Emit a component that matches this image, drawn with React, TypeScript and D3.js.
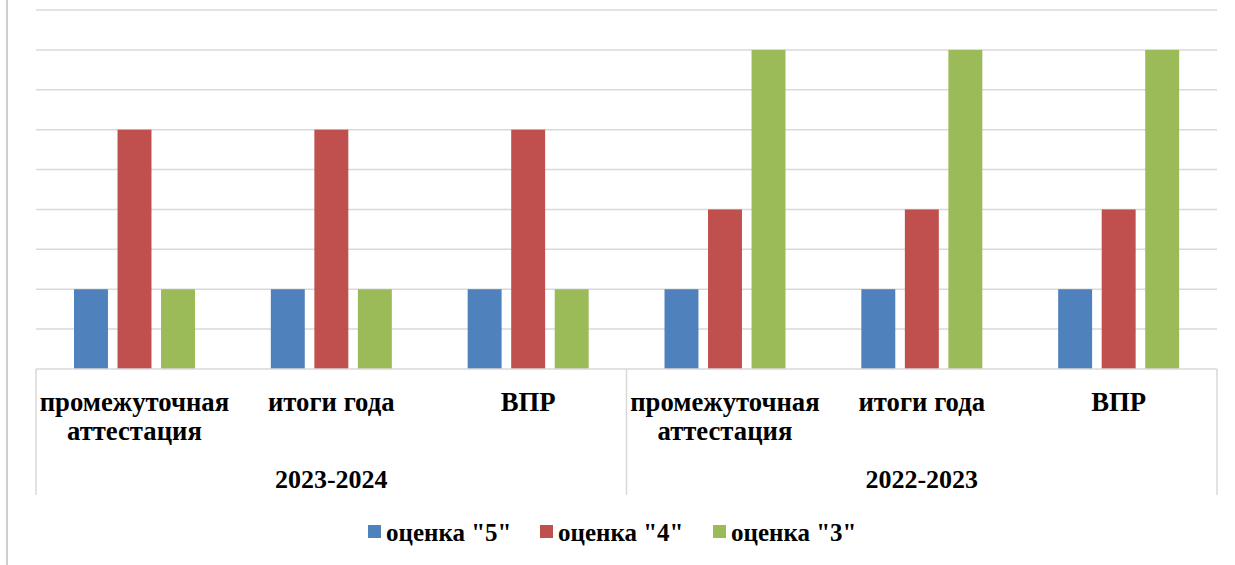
import React from "react";
import * as d3 from "d3";

const categories = ["промежуточная\nаттестация", "итоги года", "ВПР", "промежуточная\nаттестация", "итоги года", "ВПР"];
const years = ["2023-2024", "2022-2023"];
const seriesNames = ['оценка "5"', 'оценка "4"', 'оценка "3"'];
const grade5 = [2, 2, 2, 2, 2, 2];
const grade4 = [6, 6, 6, 4, 4, 4];
const grade3 = [2, 2, 2, 8, 8, 8];
const colors = ["#4F81BD", "#C0504D", "#9BBB59"];
const yTicks = [0, 1, 2, 3, 4, 5, 6, 7, 8, 9];

export default function App() {
  const W = 1235, H = 565;
  const left = 36, right = 1217, base = 369, top = 10;
  const x = d3.scaleBand<number>().domain(d3.range(categories.length)).range([left, right]).padding(0);
  const y = d3.scaleLinear().domain([0, 9]).range([base, top]);
  const inner = d3.scaleBand<number>().domain([0, 1, 2]).range([38, 159]).paddingInner(0.22).paddingOuter(0);
  const series = [grade5, grade4, grade3];
  const font = "Liberation Serif, DejaVu Serif, serif";
  const groupW = (right - left) / years.length;
  const legendX = [368, 540, 713];
  return (
    <svg width={W} height={H} style={{ position: "absolute", left: 0, top: 0 }}>
      <rect width={W} height={H} fill="#fff" />
      <line x1={7} x2={7} y1={0} y2={H} stroke="#cfcfcf" strokeWidth={2} />
      {yTicks.slice(1).map((t) => (
        <line key={t} x1={left} x2={right} y1={y(t)} y2={y(t)} stroke="#d9d9d9" strokeWidth={1.5} />
      ))}
      {series.map((vals, si) =>
        vals.map((v, ci) => (
          <rect key={si + "-" + ci} x={(x(ci) as number) + (inner(si) as number)} y={y(v)} width={inner.bandwidth()} height={base - y(v)} fill={colors[si]} />
        ))
      )}
      <line x1={left} x2={right} y1={base} y2={base} stroke="#d9d9d9" strokeWidth={1.5} />
      {[left, left + groupW, right].map((xx, i) => (
        <line key={i} x1={xx} x2={xx} y1={base} y2={495} stroke="#d9d9d9" strokeWidth={1.5} />
      ))}
      {categories.map((c, ci) => {
        const lines = c.split("\n");
        const cx = (x(ci) as number) + x.bandwidth() / 2;
        return (
          <text key={ci} x={cx} y={411} textAnchor="middle" style={{ fontFamily: font }} fontWeight="bold" fontSize={26.7} fill="#000">
            {lines.map((l, li) => (
              <tspan key={li} x={cx} dy={li === 0 ? 0 : 29}>{l}</tspan>
            ))}
          </text>
        );
      })}
      {years.map((yr, i) => (
        <text key={yr} x={left + groupW * i + groupW / 2} y={488} textAnchor="middle" style={{ fontFamily: font }} fontWeight="bold" fontSize={26} fill="#000">{yr}</text>
      ))}
      {seriesNames.map((n, i) => (
        <g key={n}>
          <rect x={legendX[i]} y={525} width={13} height={13} fill={colors[i]} />
          <text x={legendX[i] + 18} y={541} style={{ fontFamily: font }} fontWeight="bold" fontSize={25} fill="#000">{n}</text>
        </g>
      ))}
    </svg>
  );
}
